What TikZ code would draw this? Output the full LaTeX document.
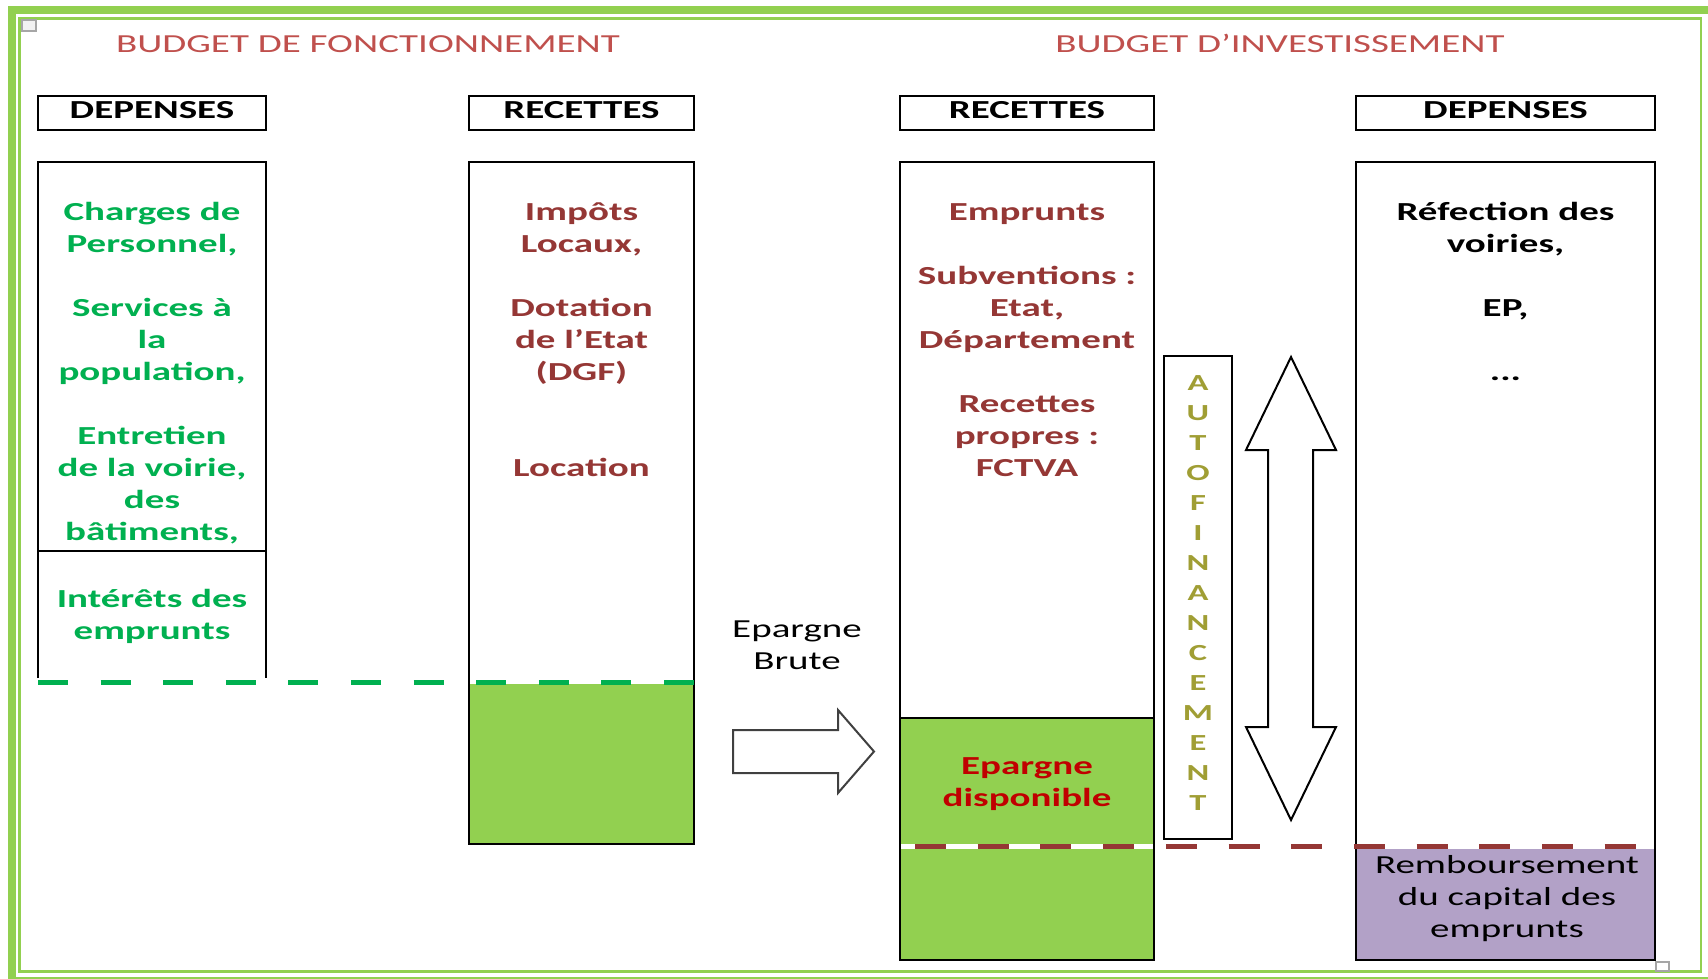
\documentclass[tikz,border=0pt]{standalone}
\usepackage{fontspec}
\setmainfont{Carlito}[FakeStretch=1.5]
\definecolor{lgreen}{HTML}{92D050}
\definecolor{dgreen}{HTML}{00B050}
\definecolor{brownred}{HTML}{953735}
\definecolor{hdrred}{HTML}{C0504D}
\definecolor{epred}{HTML}{C00000}
\definecolor{purp}{HTML}{B2A1C7}
\definecolor{autocol}{HTML}{A09E34}
\definecolor{arrowgray}{HTML}{404040}
\begin{document}
\begin{tikzpicture}[x=0.5pt,y=-0.5pt,
  coltxt/.style={inner sep=0pt, outer sep=0pt, align=center, anchor=north,
    font=\fontsize{13pt}{16pt}\selectfont\bfseries},
  regtxt/.style={inner sep=0pt, outer sep=0pt, align=center, anchor=north,
    font=\fontsize{13pt}{16pt}\selectfont},
  titletxt/.style={inner sep=0pt, anchor=base, text=hdrred,
    font=\fontsize{13pt}{16pt}\selectfont},
  headtxt/.style={inner sep=0pt, anchor=base,
    font=\fontsize{13pt}{16pt}\selectfont\bfseries},
  boxline/.style={line width=1pt, draw=black},
  headbox/.style={line width=1.2pt, draw=black},
  greendash/.style={draw=dgreen, line width=2.5pt, dash pattern=on 15pt off 16.3pt},
  browndash/.style={draw=brownred, line width=2.5pt, dash pattern=on 15.5pt off 15.85pt},
  blockarrow/.style={line width=1pt, draw=black, fill=white, line join=miter},
]
\useasboundingbox (0,0) rectangle (1708,979);
\fill[white] (0,0) rectangle (1708,979);

% frame
\draw[lgreen, line width=4pt] (12,10.5) rectangle (1712,981);
\draw[lgreen, line width=1.25pt] (19.5,18.5) rectangle (1701,971.5);
\draw[gray!70, fill=gray!10, line width=0.6pt] (22,20) rectangle (36,31);
\draw[gray!70, fill=white, line width=0.8pt] (1656,962) rectangle (1669,971);

% titles
\node[titletxt] (tfonc) at (368,53) {BUDGET DE FONCTIONNEMENT};
\node[titletxt] (tinv) at (1280,53) {BUDGET D’INVESTISSEMENT};

% header boxes
\draw[headbox] (38,96) rectangle (266,130);
\draw[headbox] (469,96) rectangle (694,130);
\draw[headbox] (900,96) rectangle (1154,130);
\draw[headbox] (1356,96) rectangle (1655,130);
\node[headtxt] (hdl) at (152,119) {DEPENSES};
\node[headtxt] (hrl) at (581.5,119) {RECETTES};
\node[headtxt] (hrr) at (1027,119) {RECETTES};
\node[headtxt] (hdr) at (1505.5,119) {DEPENSES};

% fills
\fill[lgreen] (469,684) rectangle (694,844);
\fill[lgreen] (900,718) rectangle (1154,960);
\fill[purp] (1356,849) rectangle (1655,960);

% columns
\draw[boxline] (38,678) -- (38,162) -- (266,162) -- (266,678);
\draw[boxline] (38,550.5) -- (266,550.5);
\draw[boxline] (469,162) rectangle (694,844);
\draw[boxline] (900,162) rectangle (1154,960);
\draw[boxline] (900,718) -- (1154,718);
\draw[boxline] (1356,162) rectangle (1655,960);
\draw[boxline] (1164,356) rectangle (1232,839);

% dashed levels
\draw[greendash] (38,682) -- (694,682);
\draw[white, line width=2.5pt] (901,846.5) -- (1153,846.5);
\draw[browndash] (915,846.5) -- (1636,846.5);

% arrows
\draw[blockarrow, draw=arrowgray] (733,730) -- (838,730) -- (838,710) -- (874,751.5)
  -- (838,793) -- (838,773) -- (733,773) -- cycle;
\draw[blockarrow] (1291,357) -- (1336,450) -- (1313,450) -- (1313,727) -- (1336,727)
  -- (1291,820) -- (1246,727) -- (1268,727) -- (1268,450) -- (1246,450) -- cycle;

% column texts
\node[coltxt, text=dgreen] (cdl) at (152,198) {\rule{0pt}{11pt}Charges de\\Personnel,\\[16pt]Services à\\la\\population,\\[16pt]Entretien\\de la voirie,\\des\\bâtiments,};
\node[coltxt, text=dgreen] (cint) at (152,585) {\rule{0pt}{11pt}Intérêts des\\emprunts};
\node[coltxt, text=brownred] (crl) at (581.5,198) {\rule{0pt}{11pt}Impôts\\Locaux,\\[16pt]Dotation\\de l’Etat\\(DGF)\\[32pt]Location};
\node[coltxt, text=brownred] (crr) at (1027,198) {\rule{0pt}{11pt}Emprunts\\[16pt]Subventions :\\Etat,\\Département\\[16pt]Recettes\\propres :\\FCTVA};
\node[coltxt] (cdr) at (1505.5,198) {\rule{0pt}{11pt}Réfection des\\voiries,\\[16pt]EP,\\[16pt]...};
\node[coltxt, text=epred] (cepd) at (1027,752) {\rule{0pt}{11pt}Epargne\\disponible};
\node[regtxt] (cremb) at (1507,851) {\rule{0pt}{11pt}Remboursement\\du capital des\\emprunts};
\node[regtxt] (cepb) at (797,615) {\rule{0pt}{11pt}Epargne\\Brute};
\node[inner sep=0pt, outer sep=0pt, align=center, anchor=north, text=autocol,
  font=\fontsize{11.5pt}{15pt}\selectfont\bfseries] (auto) at (1198,368)
  {\rule{0pt}{11pt}A\\U\\T\\O\\F\\I\\N\\A\\N\\C\\E\\M\\E\\N\\T};
\end{tikzpicture}
\end{document}
